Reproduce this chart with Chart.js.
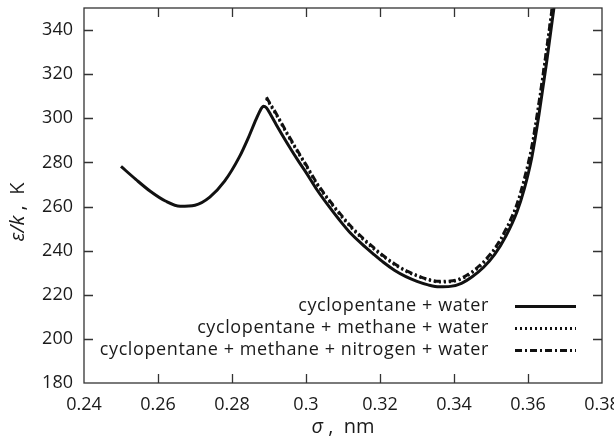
<!DOCTYPE html>
<html><head><meta charset="utf-8">
<script src="https://cdn.jsdelivr.net/npm/chart.js@4"></script>
<style>html,body{margin:0;padding:0;background:#fff}#wrap{width:614px;height:440px}</style>
</head><body><div id="wrap"><canvas id="c" width="614" height="440"></canvas></div>
<script>
// ---- data ----
const seriesLabels = ['cyclopentane + water', 'cyclopentane + methane + water', 'cyclopentane + methane + nitrogen + water'];

const sigmaCpW = [0.250,0.254,0.258,0.262,0.266,0.270,0.274,0.278,0.282,0.2845,0.2865,0.2877,0.2885,0.2893,0.2905,0.292,0.295,0.298,0.300,0.303,0.306,0.309,0.312,0.315,0.318,0.321,0.324,0.327,0.330,0.333,0.336,0.339,0.342,0.345,0.348,0.351,0.354,0.357,0.359,0.361,0.363,0.365,0.367,0.368];
const epsCpW   = [278.2,272.3,266.8,262.5,260.1,260.6,264.3,271.5,282.5,291.5,299.5,303.8,305.5,304.8,301.5,297.0,288.5,280.5,275.5,267.5,260.5,254.0,248.0,243.2,238.8,234.6,231.0,228.2,226.1,224.5,223.6,223.8,225.2,228.3,232.5,238.3,246.5,257.5,268.0,282.0,302.0,325.0,350.0,363.0];

const sigmaCpMW = [0.2893,0.290,0.292,0.295,0.298,0.300,0.303,0.306,0.309,0.312,0.315,0.318,0.321,0.324,0.327,0.330,0.333,0.336,0.339,0.342,0.345,0.348,0.351,0.354,0.357,0.359,0.361,0.363,0.365,0.367];
const epsCpMW   = [309.0,307.0,301.5,292.5,284.0,278.5,270.0,263.0,256.7,250.8,245.8,241.3,237.2,233.6,230.7,228.5,226.8,225.8,225.9,227.2,230.2,234.5,240.5,249.0,260.5,271.5,286.0,306.5,330.0,355.0];

const sigmaCpMNW = [0.2893,0.290,0.292,0.295,0.298,0.300,0.303,0.306,0.309,0.312,0.315,0.318,0.321,0.324,0.327,0.330,0.333,0.336,0.339,0.342,0.345,0.348,0.351,0.354,0.357,0.359,0.361,0.363,0.365,0.367];
const epsCpMNW   = [309.5,307.5,302.0,293.0,284.5,279.0,270.5,263.5,257.2,251.3,246.3,241.8,237.6,234.0,231.0,228.8,227.0,226.1,226.2,227.5,230.6,235.0,241.0,249.6,261.0,272.5,287.0,307.5,331.0,356.0];

const xTickValues = [0.24,0.26,0.28,0.30,0.32,0.34,0.36,0.38];
const xTickLabels = ['0.24','0.26','0.28','0.3','0.32','0.34','0.36','0.38'];
const yTickValues = [180,200,220,240,260,280,300,320,340];

// ---- chart ----
const FONT = '"Open Sans", "Noto Sans", sans-serif';
const pairs = (xs, ys) => xs.map((x, i) => ({x: x, y: ys[i]}));
const dashes = [[], [2, 3], [7, 3, 2, 3]];
const seriesData = [pairs(sigmaCpW, epsCpW), pairs(sigmaCpMW, epsCpMW), pairs(sigmaCpMNW, epsCpMNW)];

const framePlugin = {
  id: 'frame',
  afterDraw(chart) {
    const ctx = chart.ctx, a = chart.chartArea;
    const xs = chart.scales.x, ys = chart.scales.y;
    ctx.save();
    ctx.strokeStyle = '#333';
    ctx.lineWidth = 1.3;
    ctx.strokeRect(a.left, a.top, a.right - a.left, a.bottom - a.top);
    const TL = 9;
    ctx.beginPath();
    xTickValues.forEach(v => {
      const p = Math.round(xs.getPixelForValue(v)) + 0.5;
      if (p <= a.left + 1 || p >= a.right - 1) return;
      ctx.moveTo(p, a.bottom); ctx.lineTo(p, a.bottom - TL);
      ctx.moveTo(p, a.top); ctx.lineTo(p, a.top + TL);
    });
    yTickValues.forEach(v => {
      const p = Math.round(ys.getPixelForValue(v)) + 0.5;
      if (p >= a.bottom - 1 || p <= a.top + 1) return;
      ctx.moveTo(a.left, p); ctx.lineTo(a.left + TL, p);
      ctx.moveTo(a.right, p); ctx.lineTo(a.right - TL, p);
    });
    ctx.stroke();

    // axis titles with italic symbols
    ctx.fillStyle = '#1a1a1a';
    ctx.textBaseline = 'middle';
    const drawMixed = (parts, cx, cy) => {
      let total = 0;
      parts.forEach(p => { ctx.font = p[1]; total += ctx.measureText(p[0]).width; });
      let x = cx - total / 2;
      ctx.textAlign = 'left';
      parts.forEach(p => { ctx.font = p[1]; ctx.fillText(p[0], x, cy); x += ctx.measureText(p[0]).width; });
    };
    const it = 'italic 20px ' + FONT, nm = '20px ' + FONT;
    drawMixed([['σ', it], [' ,  nm', nm]], (a.left + a.right) / 2, 427);
    ctx.save();
    ctx.translate(18, 212);
    ctx.rotate(-Math.PI / 2);
    drawMixed([['ε/k', it], [' ,  K', nm]], 0, 0);
    ctx.restore();

    // legend
    ctx.font = '18px ' + FONT;
    if ('letterSpacing' in ctx) ctx.letterSpacing = '0.6px';
    ctx.textAlign = 'right';
    chart.data.datasets.forEach((ds, i) => {
      const y = 306 + i * 22;
      ctx.fillStyle = '#1a1a1a';
      ctx.fillText(ds.label, 489, y);
      ctx.save();
      ctx.strokeStyle = ds.borderColor;
      ctx.lineWidth = ds.borderWidth;
      ctx.setLineDash(ds.borderDash || []);
      ctx.beginPath();
      ctx.moveTo(515, y + 0.5); ctx.lineTo(576, y + 0.5);
      ctx.stroke();
      ctx.restore();
    });
    ctx.restore();
  }
};

new Chart(document.getElementById('c'), {
  type: 'line',
  data: {
    datasets: seriesLabels.map((lab, i) => ({
      label: lab,
      data: seriesData[i],
      borderColor: '#111',
      borderWidth: 3,
      borderDash: dashes[i],
      pointRadius: 0,
      fill: false,
      cubicInterpolationMode: 'monotone',
      clip: 0
    }))
  },
  options: {
    responsive: false,
    animation: false,
    events: [],
    layout: {padding: {left: 0, right: 12, top: 8, bottom: 0}},
    plugins: {legend: {display: false}, tooltip: {enabled: false}},
    scales: {
      x: {
        type: 'linear', min: 0.24, max: 0.38,
        grid: {display: false, drawTicks: false},
        border: {display: false},
        afterBuildTicks: s => { s.ticks = xTickValues.map(v => ({value: v})); },
        afterFit: s => { s.height = 57; s.paddingLeft = 0; s.paddingRight = 0; },
        ticks: {
          padding: 11, maxRotation: 0, autoSkip: false,
          color: '#1a1a1a', font: {family: FONT, size: 18},
          callback: (v) => xTickLabels[xTickValues.findIndex(t => Math.abs(t - v) < 1e-9)]
        }
      },
      y: {
        type: 'linear', min: 180, max: 350,
        grid: {display: false, drawTicks: false},
        border: {display: false},
        afterBuildTicks: s => { s.ticks = yTickValues.map(v => ({value: v})); },
        afterFit: s => { s.width = 84; s.paddingTop = 0; s.paddingBottom = 0; },
        ticks: {
          padding: 11, autoSkip: false,
          color: '#1a1a1a', font: {family: FONT, size: 18},
          callback: v => String(v)
        }
      }
    }
  },
  plugins: [framePlugin]
});
</script>
</body></html>
